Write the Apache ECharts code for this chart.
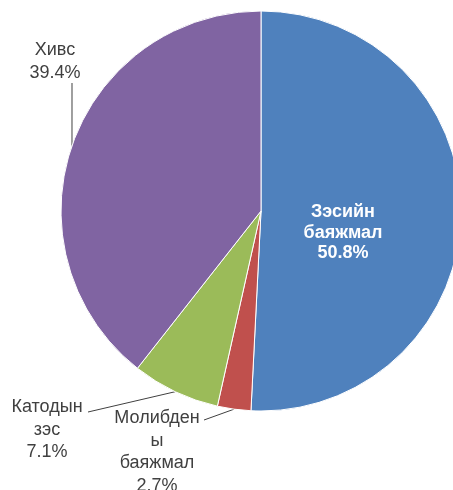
<!DOCTYPE html>
<html>
<head>
<meta charset="utf-8">
<script src="https://cdn.jsdelivr.net/npm/echarts@6/dist/echarts.min.js"></script>
<style>
  html, body { margin: 0; padding: 0; background: #fff; }
  #pieChart { width: 453px; height: 490px; }
</style>
</head>
<body>
<div id="pieChart"></div>
<script>
// data
const names = ['Зэсийн\nбаяжмал', 'Молибден\nы\nбаяжмал', 'Катодын\nзэс', 'Хивс'];
const shares = [50.8, 2.7, 7.1, 39.4];
const colors = ['#4f81bd', '#c0504d', '#9bbb59', '#8064a2'];

// where each label sits (center x, top y) and where its leader ends
const labelPos = [[343, 202], [157, 407], [47, 396], [55, 39]];
const lineEnd = [null, [204, 420], [88, 412], [72, 83]];

const chart = echarts.init(document.getElementById('pieChart'));

const data = names.map((n, i) => {
  const item = { name: n, value: shares[i], itemStyle: { color: colors[i] } };
  if (i === 0) {
    item.label = {
      position: 'inside',
      color: '#fff',
      fontWeight: 'bold',
      fontSize: 18,
      lineHeight: 20.5
    };
    item.labelLine = { show: false };
  }
  return item;
});

chart.setOption({
  animation: false,
  series: [{
    type: 'pie',
    center: [261, 211],
    radius: 200,
    startAngle: 90,
    clockwise: true,
    data: data,
    itemStyle: { borderColor: '#fff', borderWidth: 1 },
    label: {
      show: true,
      position: 'outside',
      overflow: 'none',
      formatter: p => p.name + '\n' + p.value.toFixed(1) + '%',
      fontFamily: 'Liberation Sans, Arial, sans-serif',
      fontSize: 18,
      lineHeight: 22.5,
      color: '#404040'
    },
    labelLine: {
      show: true,
      lineStyle: { color: '#404040', width: 1 }
    },
    labelLayout: function (params) {
      const i = params.dataIndex;
      const out = {
        x: labelPos[i][0],
        y: labelPos[i][1],
        align: 'center',
        verticalAlign: 'top',
        hideOverlap: false
      };
      if (lineEnd[i] && params.labelLinePoints) {
        out.labelLinePoints = [params.labelLinePoints[0], lineEnd[i]];
      }
      return out;
    }
  }]
});
</script>
</body>
</html>
